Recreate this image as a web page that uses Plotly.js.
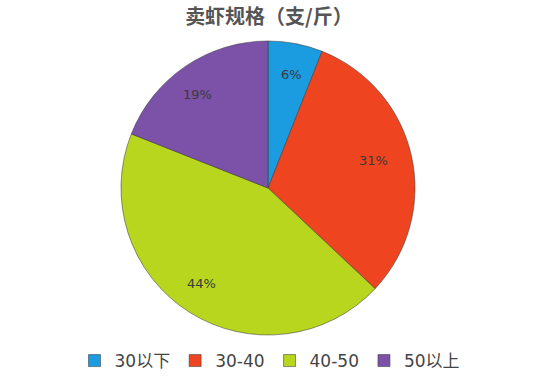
<!DOCTYPE html>
<html>
<head>
<meta charset="utf-8">
<script src="https://cdn.plot.ly/plotly-3.0.1.min.js"></script>
<style>html,body{margin:0;padding:0;background:#fff;}#chart{width:550px;height:381px;}</style>
</head>
<body>
<div id="chart"></div>
<script>
const categories = ['30以下', '30-40', '40-50', '50以上'];
const shares = [6, 31, 44, 19];
const sliceColors = ['#1b9be0', '#ee4420', '#b9d61e', '#7b52a8'];
const titleText = '卖虾规格（支/斤）';

const W = 550, H = 381;
const cx = 268, cy = 188, R = 147;
const domX = [(cx - R) / W, (cx + R) / W];
const domY = [(H - cy - R) / H, (H - cy + R) / H];

const total = shares.reduce((a, b) => a + b, 0);
const annotations = [];
let cum = 0;
shares.forEach((v, i) => {
  const f = (cum + v / 2) / total;
  cum += v;
  const th = 2 * Math.PI * f;
  const r = 0.85 * R;
  annotations.push({
    xref: 'paper', yref: 'paper',
    x: (cx + r * Math.sin(th)) / W,
    y: (H - cy + r * Math.cos(th)) / H,
    text: Math.round(v / total * 100) + '%',
    showarrow: false,
    font: {family: 'DejaVu Sans, sans-serif', size: 13, color: '#3a3a3a'}
  });
});

const data = [{
  type: 'pie',
  labels: categories,
  values: shares,
  sort: false,
  direction: 'clockwise',
  rotation: 0,
  textinfo: 'none',
  hoverinfo: 'label+percent',
  marker: {colors: sliceColors, line: {color: 'rgba(60,60,60,0.55)', width: 1}},
  domain: {x: domX, y: domY}
}];

const layout = {
  width: W, height: H,
  margin: {l: 0, r: 0, t: 0, b: 0},
  paper_bgcolor: '#ffffff',
  title: {
    text: '<b>' + titleText + '</b>',
    x: 269 / W, xanchor: 'center',
    y: 1 - 17 / H, yanchor: 'middle',
    font: {family: 'Noto Sans CJK SC, sans-serif', size: 20, color: '#555555'}
  },
  showlegend: true,
  legend: {
    orientation: 'h',
    x: 270 / W, xanchor: 'center',
    y: (H - 361) / H, yanchor: 'middle',
    font: {family: 'DejaVu Sans, Noto Sans CJK SC, sans-serif', size: 17, color: '#444444'},
    itemwidth: 30,
    traceorder: 'normal'
  },
  annotations: annotations
};

Plotly.newPlot('chart', data, layout, {displayModeBar: false, staticPlot: true});
</script>
</body>
</html>
